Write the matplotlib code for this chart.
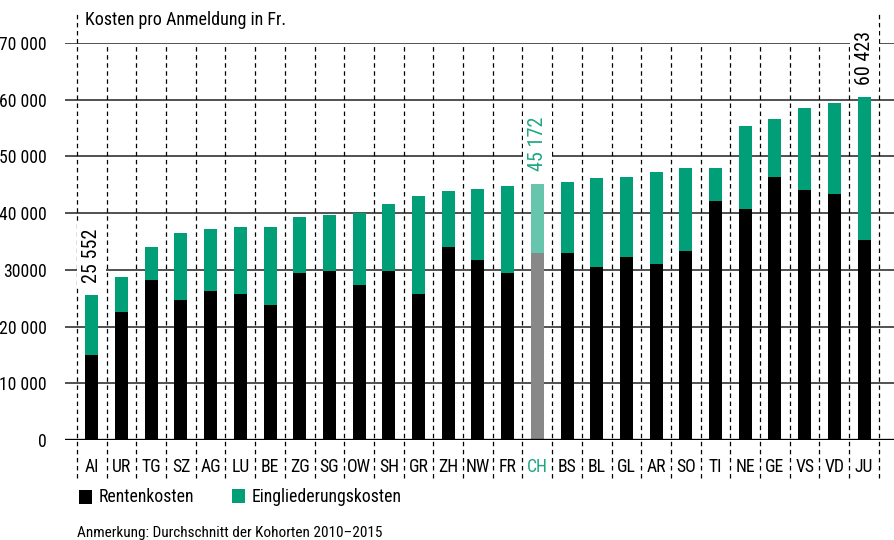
import matplotlib
matplotlib.use("Agg")
import matplotlib.pyplot as plt
from matplotlib import font_manager as fm
from matplotlib.patches import Rectangle

# ---------------- data ----------------
cantons = ['AI', 'UR', 'TG', 'SZ', 'AG', 'LU', 'BE', 'ZG', 'SG', 'OW', 'SH', 'GR', 'ZH', 'NW',
           'FR', 'CH', 'BS', 'BL', 'GL', 'AR', 'SO', 'TI', 'NE', 'GE', 'VS', 'VD', 'JU']
rentenkosten = [14900, 22600, 28200, 24700, 26300, 25700, 23800, 29500, 29800, 27300, 29800,
                25700, 34000, 31700, 29500, 33000, 33000, 30500, 32300, 31000, 33300, 42100,
                40700, 46400, 44100, 43400, 35300]
eingliederungskosten = [10652, 6100, 5800, 11800, 10900, 11900, 13800, 9900, 9900, 12700, 11800,
                        17300, 9900, 12500, 15300, 12172, 12500, 15700, 14100, 16300, 14600, 5900,
                        14700, 10200, 14400, 16000, 25123]
label_cantons = ['AI', 'CH', 'JU']
label_texts = ['25 552', '45 172', '60 423']
yticks = [0, 10000, 20000, 30000, 40000, 50000, 60000, 70000]
ytick_labels = ['0', '10 000', '20 000', '30000', '40 000', '50 000', '60 000', '70 000']

# ---------------- fonts ----------------
names = {f.name for f in fm.fontManager.ttflist}
font_kw = {}
if 'Liberation Sans Narrow' in names:
    font_kw = dict(family='Liberation Sans Narrow')
elif 'Roboto Condensed' in names:
    font_kw = dict(family='Roboto Condensed')
elif any(f.name == 'DejaVu Sans' and f.stretch == 'condensed' for f in fm.fontManager.ttflist):
    font_kw = dict(family='DejaVu Sans', stretch='condensed')
else:
    font_kw = dict(family='DejaVu Sans')
plt.rcParams['font.family'] = font_kw['family']
if 'stretch' in font_kw:
    plt.rcParams['font.stretch'] = font_kw['stretch']
plt.rcParams['lines.scale_dashes'] = False

W, H = 895, 540
GREEN = '#009f78'
LIGHT_GREEN = '#67c4ad'
GRAY = '#888888'
LABEL_GREEN = '#1ea682'
FS = 12.7

fig = plt.figure(figsize=(W / 100, H / 100), dpi=100)
ax_l, ax_r, ax_b, ax_t = 65, 895, 440, 43
ax = fig.add_axes([ax_l / W, 1 - ax_b / H, (ax_r - ax_l) / W, (ax_b - ax_t) / H])

n = len(cantons)
x = list(range(n))
slot = 29.7
xl = -0.5 - (77 - ax_l) / slot
xr = xl + (ax_r - ax_l) / slot
ax.set_xlim(xl, xr)
ax.set_ylim(0, 70000)
ppy = 70000 / (ax_b - ax_t)  # data per pixel

# grid lines
for v in yticks[1:]:
    ax.axhline(v, color='#222222', lw=1.1, zorder=1)
ax.axhline(0, color='black', lw=2.4, zorder=4)

# bars
idx_ch = cantons.index('CH')
c_r = ['black'] * n
c_e = [GREEN] * n
c_r[idx_ch] = GRAY
c_e[idx_ch] = LIGHT_GREEN
ax.bar(x, rentenkosten, width=0.44, color=c_r, zorder=3, linewidth=0)
ax.bar(x, eingliederungskosten, bottom=rentenkosten, width=0.44, color=c_e, zorder=3, linewidth=0)

# dashed separators
for k in range(n + 1):
    xb = k - 0.5
    top = 70000 if 0 < k < n else (ax_b - 12) * ppy
    bot = -(478 - ax_b) * ppy
    ax.plot([xb, xb], [bot, top], color='black', lw=0.9, ls=(0, (3.2, 2.6)),
            clip_on=False, zorder=2)

# value labels
for c, t in zip(label_cantons, label_texts):
    i = cantons.index(c)
    total = rentenkosten[i] + eingliederungskosten[i]
    col = LABEL_GREEN if c == 'CH' else 'black'
    ax.annotate(t, (i, total), xytext=(0, 9), textcoords='offset points',
                rotation=90, ha='center', va='bottom', fontsize=14.5, color=col, zorder=6,
                bbox=dict(boxstyle='square,pad=0.25', fc='white', ec='none'),
                annotation_clip=False)

# axes styling
for s in ax.spines.values():
    s.set_visible(False)
ax.set_yticks(yticks)
ax.set_yticklabels(ytick_labels, fontsize=FS)
ax.tick_params(axis='y', length=0, pad=13)
ax.set_xticks(x)
ax.set_xticklabels(cantons, fontsize=FS)
ax.tick_params(axis='x', length=0, pad=13)
ax.get_xticklabels()[idx_ch].set_color(LABEL_GREEN)
ax.patch.set_alpha(0)

# title
fig.text(85 / W, 1 - 20 / H, 'Kosten pro Anmeldung in Fr.', fontsize=FS + 0.3, va='center', ha='left')

# legend
fig.add_artist(Rectangle((79 / W, 1 - 504 / H), 13 / W, 14 / H, transform=fig.transFigure,
                         color='black', lw=0))
fig.text(99 / W, 1 - 497 / H, 'Rentenkosten', fontsize=FS, va='center', ha='left')
fig.add_artist(Rectangle((232 / W, 1 - 503 / H), 13 / W, 14 / H, transform=fig.transFigure,
                         color=GREEN, lw=0))
fig.text(252 / W, 1 - 497 / H, 'Eingliederungskosten', fontsize=FS, va='center', ha='left')

# footnote
fig.text(77 / W, 1 - 533 / H, 'Anmerkung: Durchschnitt der Kohorten 2010–2015', fontsize=11,
         va='center', ha='left')

fig.savefig('out.png', dpi=100)
